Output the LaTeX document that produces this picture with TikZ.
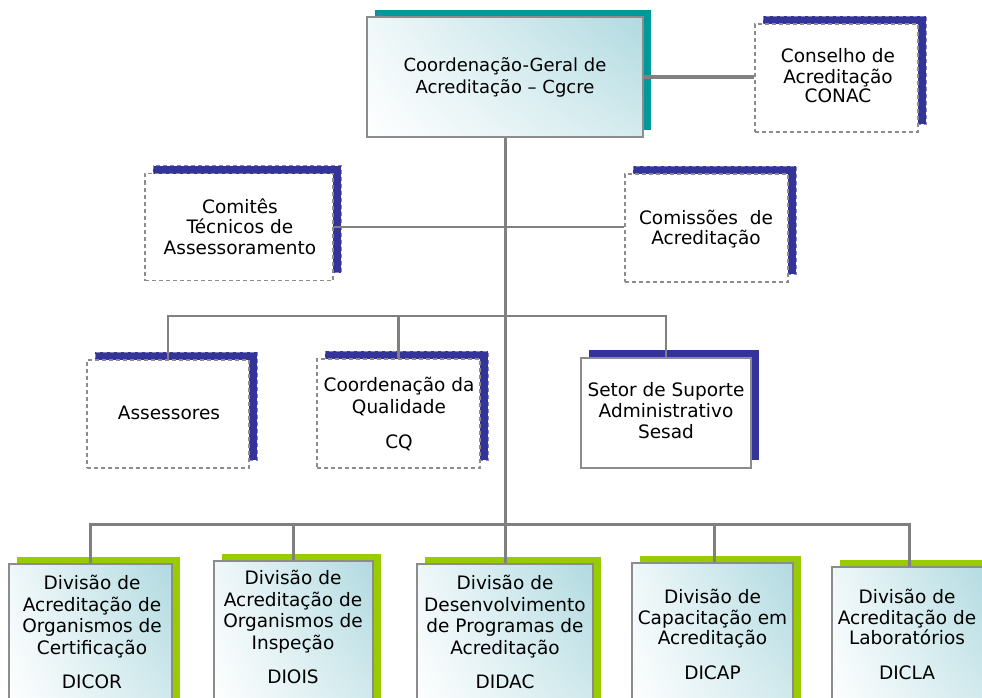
\documentclass[tikz,border=0pt]{standalone}
\usepackage{fontspec}
\setmainfont{DejaVu Sans}
\usetikzlibrary{shadows,shadings}
\definecolor{navyS}{RGB}{51,51,153}
\definecolor{tealS}{RGB}{0,153,153}
\definecolor{greenS}{RGB}{153,204,0}
\definecolor{lineG}{RGB}{128,128,128}
\definecolor{boxG}{RGB}{140,140,140}
\definecolor{tealL}{RGB}{176,218,224}
\begin{document}
\begin{tikzpicture}[x=1pt,y=-1pt,
  sz/.style 2 args={minimum width=#1pt, minimum height=#2pt, inner sep=0pt},
  txt/.style={anchor=base, align=center, inner sep=0pt, text=black, font=\fontsize{18.5}{21.5}\selectfont},
  dashbox/.style={draw=boxG, dash pattern=on 4pt off 3pt, line width=1.2pt, fill=white,
    general shadow={fill=navyS, draw=navyS!60!white, dash pattern=on 4pt off 3pt, line width=0.8pt,
      shadow xshift=8pt, shadow yshift=8pt}},
  solidbox/.style={draw=boxG, line width=1.6pt, fill=white,
    general shadow={fill=navyS, draw=none, shadow xshift=8pt, shadow yshift=8pt}},
  gradbox/.style={draw=boxG, line width=1.6pt, shade,
    upper right=tealL, lower right=white!45!tealL, upper left=white!80!tealL, lower left=white},
  tealshadow/.style={general shadow={fill=tealS, draw=none, shadow xshift=8pt, shadow yshift=7pt}},
  greenshadow/.style={general shadow={fill=greenS, draw=none, shadow xshift=8pt, shadow yshift=7pt}},
  ln/.style={draw=lineG, line width=#1, line join=miter},
  ln/.default=2.5pt
]
\useasboundingbox (0,0) rectangle (982,698);
\clip (0,0) rectangle (982,698);

% top level
\node[gradbox, tealshadow, sz={276}{120}] (cg) at (505,77) {};
\node[txt, font=\fontsize{18}{22}\selectfont] (tcg) at (505,94) {Coordenação-Geral de\\Acreditação – Cgcre};

\node[dashbox, sz={163}{108}] (conac) at (836.5,78) {};
\node[txt, font=\fontsize{18.5}{20}\selectfont] (tconac) at (838,103) {Conselho de\\Acreditação\\CONAC};

% advisory level
\node[dashbox, sz={188}{107}] (ctec) at (239,227) {};
\node[txt, font=\fontsize{18.5}{20.5}\selectfont] (tctec) at (240,254) {Comitês\\Técnicos de\\Assessoramento};

\node[dashbox, sz={163}{108}] (comis) at (706.5,228) {};
\node[txt, font=\fontsize{18.5}{20}\selectfont] (tcomis) at (706,244) {Comissões~ de\\Acreditação};

% second level
\node[dashbox, sz={162}{108}] (ass) at (168,414) {};
\node[txt] (tass) at (169,419) {Assessores};

\node[dashbox, sz={163}{109}] (cq) at (398.5,413.5) {};
\node[txt, font=\fontsize{18.5}{22}\selectfont] (tcq) at (399,448) {Coordenação da\\Qualidade\\[13pt]CQ};

\node[solidbox, sz={170}{110}] (sesad) at (666,413) {};
\node[txt, font=\fontsize{18.5}{21}\selectfont] (tsesad) at (666,438) {Setor de Suporte\\Administrativo\\Sesad};

% divisions
\node[gradbox, greenshadow, sz={163}{151}] (dicor) at (90.5,639.5) {};
\node[txt] (tdicor) at (92,688) {Divisão de\\Acreditação de\\Organismos de\\Certificação\\[12.5pt]DICOR};

\node[gradbox, greenshadow, sz={159}{151}] (diois) at (293.5,636.5) {};
\node[txt] (tdiois) at (293,683) {Divisão de\\Acreditação de\\Organismos de\\Inspeção\\[12.5pt]DIOIS};

\node[gradbox, greenshadow, sz={176}{151}] (didac) at (505,639.5) {};
\node[txt] (tdidac) at (505,688) {Divisão de\\Desenvolvimento\\de Programas de\\Acreditação\\[12.5pt]DIDAC};

\node[gradbox, greenshadow, sz={161}{151}] (dicap) at (712.5,638.5) {};
\node[txt, font=\fontsize{18.5}{20.5}\selectfont] (tdicap) at (712.5,679) {Divisão de\\Capacitação em\\Acreditação\\[14pt]DICAP};

\node[gradbox, greenshadow, sz={160}{151}] (dicla) at (912,642.5) {};
\node[txt, font=\fontsize{18.5}{20.5}\selectfont] (tdicla) at (907,679) {Divisão de\\Acreditação de\\Laboratórios\\[14pt]DICLA};

% connectors
\coordinate (c2) at (505,316);
\coordinate (c3) at (505,524);
\coordinate (dca) at (714,524);
\coordinate (dla) at (909,524);

\draw[ln=4pt] (cg.east) -- (cg.east -| conac.west);
\draw[ln=2pt] (ctec.east) -- (ctec.east -| comis.west);
\draw[ln=3pt] (cg.south) -- (c3);
\draw[ln] (ass.north) |- (c2) -| (sesad.north);
\draw[ln] (cq.north) -- (cq.north |- c2);
\draw[ln=3pt] (dicor.north) |- (c3) -| (dla |- dicla.north);
\draw[ln=3pt] (diois.north) -- (diois.north |- c3);
\draw[ln=3pt] (didac.north) -- (didac.north |- c3);
\draw[ln=3pt] (dca) -- (dca |- dicap.north);
\end{tikzpicture}
\end{document}
